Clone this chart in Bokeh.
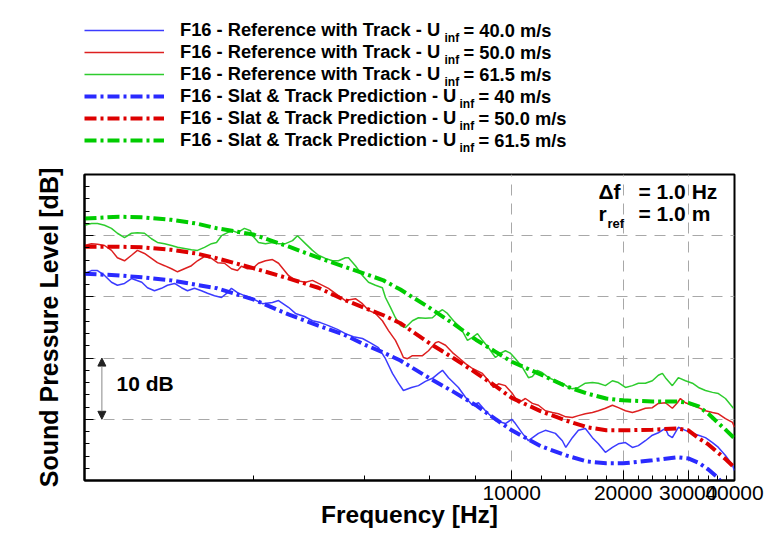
from bokeh.plotting import figure
from bokeh.layouts import column
from bokeh.models import (Legend, LegendItem, Label, FixedTicker, NumeralTickFormatter,
                          CustomJSTickFormatter, Arrow, NormalHead, Range1d)
from bokeh.embed import file_html
from bokeh.resources import INLINE

FONT = "Liberation Sans"

# ---------------- data ----------------
freq_ref_40 = [700, 731, 759, 793, 828, 859, 898, 938, 1000, 1036, 1082, 1130, 1173, 1226, 1280,
               1329, 1388, 1450, 1505, 1572, 1642, 1705, 1747, 1814, 1894, 1967, 2119, 2255, 2342,
               2491, 2602, 2752, 2893, 3040, 3195, 3379, 3551, 3732, 3948, 4150, 4362, 4556, 4759,
               4939, 5095, 5357, 5595, 5843, 6104, 6338, 6497, 6746, 7175, 7497, 7830, 8128, 8489,
               9036, 9612, 10000, 10230, 10685, 11094, 11806, 12330, 13120, 13700, 14000, 14580,
               15140, 15810, 16520, 17140, 17910, 18710, 19420, 20290, 21190, 21990, 22970, 23990,
               24900, 26020, 26510, 27170, 28200, 29470, 30790, 31960, 33390, 34880, 36190, 37810,
               39510, 40000]
spl_ref_40 = [53.8, 54.3, 54.3, 53.5, 52.4, 51.9, 52.2, 53.0, 52.4, 51.5, 51.0, 51.4, 51.9, 52.2, 51.5,
              51.0, 51.4, 51.0, 50.6, 50.2, 49.9, 50.7, 51.4, 50.7, 50.2, 49.9, 48.9, 49.1, 49.4,
              48.3, 47.3, 46.8, 46.1, 45.8, 45.3, 44.7, 44.0, 43.5, 43.2, 42.5, 41.7, 39.9, 37.5,
              35.9, 34.7, 35.2, 35.5, 36.2, 36.7, 37.5, 38.0, 36.8, 35.2, 33.6, 32.3, 32.7, 31.4,
              29.8, 29.3, 30.0, 29.3, 27.7, 26.5, 27.7, 28.2, 27.7, 26.5, 25.4, 27.0,
              28.2, 28.5, 27.0, 26.0, 24.6, 25.4, 26.0, 26.2, 25.4, 25.7, 26.5, 27.4,
              27.8, 28.5, 27.4, 27.0, 28.7, 28.2, 27.7, 27.4, 27.0, 26.2, 25.4, 24.1,
              22.5, 21.6]

freq_ref_50 = [700, 731, 759, 793, 828, 859, 898, 938, 973, 1017, 1062, 1102, 1152, 1203, 1249,
               1304, 1362, 1414, 1477, 1543, 1602, 1673, 1747, 1814, 1859, 1930, 1991, 2067, 2160,
               2255, 2342, 2491, 2602, 2769, 2893, 3003, 3195, 3400, 3551, 3779, 3948, 4100, 4281,
               4470, 4643, 4848, 5002, 5095, 5225, 5389, 5737, 5955, 6219, 6338, 6621, 6914, 7175,
               7497, 7830, 8330, 8652, 8926, 9207, 9612, 10043, 10425, 10885, 11370, 11806, 12330,
               12880, 13370, 14000, 14580, 15140, 15810, 16520, 17140, 17910, 18710, 19420, 20290,
               21190, 21990, 22970, 23990, 24900, 26020, 27170, 28040, 28560, 29470, 30790, 31960,
               33390, 34880, 36190, 37810, 39510, 40000]
spl_ref_50 = [58.4, 58.7, 58.6, 58.4, 57.6, 56.4, 55.9, 56.8, 57.6, 57.1, 56.3, 55.6, 55.1, 54.6, 54.1,
              54.6, 55.1, 55.9, 56.6, 56.3, 55.6, 55.5, 54.6, 54.3, 55.0, 54.6, 54.6, 55.5, 55.9,
              56.1, 55.5, 53.5, 52.7, 52.4, 52.7, 52.2, 51.4, 50.2, 49.4, 49.7, 48.9, 47.8, 47.3,
              46.1, 44.5, 42.9, 41.2, 40.1, 39.9, 40.4, 40.4, 41.2, 42.5, 42.7, 42.1, 40.9, 40.1,
              39.1, 38.3, 37.5, 36.3, 35.2, 35.8, 35.5, 34.2, 32.7, 33.4, 32.6, 32.3, 31.4,
              31.1, 30.9, 30.4, 30.3, 30.6, 30.9, 31.1, 31.4, 31.8, 32.3, 31.9, 31.4,
              31.1, 31.4, 31.8, 31.9, 32.6, 32.7, 31.8, 32.7, 33.4, 32.7, 32.3, 31.9,
              31.4, 31.1, 30.9, 30.1, 29.5, 28.7]

freq_ref_615 = [700, 731, 759, 793, 828, 859, 898, 938, 973, 1017, 1062, 1102, 1152, 1203, 1249,
                1304, 1362, 1414, 1477, 1543, 1592, 1642, 1705, 1758, 1814, 1894, 1967, 1991, 2067,
                2160, 2255, 2342, 2445, 2555, 2635, 2685, 2769, 2893, 3003, 3136, 3276, 3400, 3551,
                3619, 3779, 3948, 4100, 4281, 4470, 4556, 4700, 4848, 5002, 5162, 5389, 5595, 5843,
                6104, 6338, 6497, 6700, 6957, 7266, 7590, 7830, 8078, 8330, 8652, 9036, 9318, 9612,
                9919, 10230, 10685, 11094, 11370, 11730, 12100, 12570, 13120, 13700, 14230, 14580,
                15140, 15810, 16520, 17140, 17910, 18710, 19420, 20290, 21190, 21990, 22970, 23990,
                24900, 25540, 26020, 27170, 28200, 29470, 30790, 31960, 33390, 34880, 36190, 37810,
                39730]
spl_ref_615 = [61.7, 62.0, 62.0, 61.7, 61.2, 60.4, 59.7, 60.4, 60.5, 60.4, 59.5, 58.9, 58.7, 58.4, 58.1,
               57.9, 57.7, 57.6, 58.1, 58.7, 58.9, 60.0, 60.5, 60.8, 60.5, 61.2, 60.8, 60.0, 58.9,
               58.7, 58.9, 58.7, 58.7, 59.2, 60.0, 59.5, 58.7, 57.6, 56.8, 56.3, 55.9, 55.9, 56.4,
               56.4, 55.1, 53.5, 52.4, 51.9, 51.5, 49.9, 48.3, 46.6, 45.3, 45.0, 46.1, 46.6, 46.5,
               46.6, 47.5, 47.9, 47.3, 46.1, 45.0, 42.9, 43.4, 44.0, 42.9, 41.7, 40.1, 40.8, 41.2,
               40.8, 39.9, 38.5, 36.8, 37.0, 38.0, 37.6, 36.8, 36.3, 35.9, 35.2, 35.0,
               35.2, 35.9, 36.0, 35.9, 35.5, 36.3, 36.0, 35.2, 35.5, 35.9, 35.9, 36.3,
               37.2, 37.5, 36.8, 35.5, 36.8, 36.3, 35.9, 35.2, 34.7, 34.4, 34.2, 33.4,
               31.8]

freq_pred = [700, 870, 1000, 1200, 1400, 1600, 2000, 2500, 3000, 3500, 4000, 4500, 5000, 6000,
             7000, 8000, 9000, 10000, 12000, 14000, 16000, 18000, 20000, 24000, 28000, 30000,
             32000, 34000, 36000, 38000, 40000]
spl_pred_40 = [53.8, 53.5, 53.2, 52.7, 52.0, 51.4, 49.6, 47.1, 45.3, 43.9, 42.2, 40.9, 39.6, 36.7,
               34.4, 32.3, 30.1, 28.2, 25.6, 24.1, 23.1, 22.8, 22.8, 23.3, 23.8, 23.6,
               22.9, 21.8, 20.5, 18.7, 17.2]
spl_pred_50 = [58.2, 58.2, 58.1, 57.7, 57.1, 56.3, 54.7, 53.0, 51.5, 49.6, 48.2, 47.0, 45.7, 42.4,
               39.9, 37.6, 35.5, 33.5, 31.3, 29.8, 28.7, 28.2, 28.2, 28.3, 28.5, 28.2,
               26.9, 25.9, 24.6, 23.4, 22.1]
spl_pred_615 = [62.8, 63.1, 63.0, 62.6, 62.0, 61.2, 60.2, 58.2, 56.4, 55.0, 53.8, 52.7, 51.2, 48.2,
                45.5, 43.0, 41.1, 39.4, 37.3, 35.4, 34.2, 33.4, 33.1, 32.9, 32.9, 32.7,
                32.1, 30.9, 29.5, 28.2, 26.9]

x_major_ticks = [10000, 20000, 30000, 40000]
x_minor_ticks = [2000, 4000, 6000, 8000, 12000, 14000, 16000, 18000, 22000, 24000, 26000, 28000,
                 32000, 34000, 36000, 38000]
x_grid_ticks = [10000, 20000, 30000]
y_major_ticks = [20, 30, 40, 50, 60, 70]
y_minor_ticks = [v for v in range(22, 70, 2) if v % 10 != 0]
y_grid_ticks = [30, 40, 50, 60]

legend_prefix = ["F16 - Reference with Track - U"] * 3 + ["F16 - Slat & Track Prediction - U"] * 3
legend_suffix = ["= 40.0 m/s", "= 50.0 m/s", "= 61.5 m/s", "= 40 m/s", "= 50.0 m/s", "= 61.5 m/s"]

arrow_freq = 780
arrow_db = (30, 40)

series = [
    (freq_ref_40, spl_ref_40, "#3c3cff", 1.5, "solid"),
    (freq_ref_50, spl_ref_50, "#dd2020", 1.5, "solid"),
    (freq_ref_615, spl_ref_615, "#2ecc2e", 1.5, "solid"),
    (freq_pred, spl_pred_40, "#2a2aff", 4, "12 4 3 4"),
    (freq_pred, spl_pred_50, "#dd0000", 4, "12 4 3 4"),
    (freq_pred, spl_pred_615, "#00cc00", 4, "12 4 3 4"),
]

W = 765
LEG_H = 160
MAIN_H = 533 - LEG_H
FRAME_L = 84  # the column aligns the strip's frame with the main frame

# ---------------- legend strip ----------------
lf = figure(width=W, height=LEG_H, x_range=Range1d(0, 1), y_range=Range1d(0, 1),
            output_backend="svg", toolbar_location=None,
            min_border_left=FRAME_L, min_border_right=31, min_border_top=0, min_border_bottom=0,
            x_axis_location=None, y_axis_location=None)
lf.outline_line_color = None
lf.xgrid.visible = False
lf.ygrid.visible = False
lf.background_fill_color = "white"
lf.border_fill_color = "white"

leg_rends = []
for fx, fy, col, lw, dash in series:
    r = lf.line(fx, fy, line_color=col, line_width=lw, line_dash=dash)
    r.visible = False  # only used to draw the legend samples
    leg_rends.append(r)

legend = Legend(items=[LegendItem(label=t, renderers=[r]) for t, r in zip(legend_prefix, leg_rends)],
                location=(0, LEG_H - 151), orientation="vertical", padding=0, margin=0, spacing=0,
                glyph_width=80, glyph_height=22, label_height=22, label_standoff=16,
                label_text_font=FONT, label_text_font_size="18.3px", label_text_font_style="bold",
                label_text_color="black", border_line_color=None, background_fill_alpha=0,
                inactive_fill_alpha=0)
lf.add_layout(legend)

for i, suf in enumerate(legend_suffix):
    row_y = 30 + 22 * i
    inf_x = 444 if i < 3 else 459
    suf_x = 463 if i < 3 else 478
    lf.add_layout(Label(x=inf_x - FRAME_L, y=LEG_H - (row_y + 7), x_units="screen", y_units="screen",
                        text="inf", text_font=FONT, text_font_size="12px", text_font_style="bold",
                        text_color="black", text_baseline="middle"))
    lf.add_layout(Label(x=suf_x - FRAME_L, y=LEG_H - row_y, x_units="screen", y_units="screen",
                        text=suf, text_font=FONT, text_font_size="18.3px", text_font_style="bold",
                        text_color="black", text_baseline="middle"))

# ---------------- main plot ----------------
p = figure(width=W, height=MAIN_H, x_axis_type="log",
           x_range=Range1d(700, 40000), y_range=Range1d(20, 70),
           output_backend="svg", toolbar_location=None,
           min_border_left=FRAME_L, min_border_right=31, min_border_top=174 - LEG_H, min_border_bottom=53)
p.background_fill_color = "white"
p.border_fill_color = "white"
p.outline_line_color = "black"
p.outline_line_width = 2

p.xgrid.ticker = FixedTicker(ticks=x_grid_ticks)
p.ygrid.ticker = FixedTicker(ticks=y_grid_ticks)
for g in (p.xgrid[0], p.ygrid[0]):
    g.grid_line_color = "#a8a8a8"
    g.grid_line_width = 1
    g.grid_line_dash = "11 8"

xa = p.xaxis[0]
xa.ticker = FixedTicker(ticks=x_major_ticks, minor_ticks=x_minor_ticks)
xa.formatter = NumeralTickFormatter(format="0")
xa.major_tick_in = 10
xa.major_tick_out = 0
xa.minor_tick_in = 5
xa.minor_tick_out = 0
xa.axis_line_width = 2
xa.major_tick_line_color = "black"
xa.minor_tick_line_color = "black"
xa.major_label_text_font = FONT
xa.major_label_text_font_size = "21px"
xa.major_label_text_color = "black"
xa.major_label_standoff = 5
xa.axis_label = "Frequency [Hz]"
xa.axis_label_text_font = FONT
xa.axis_label_text_font_size = "24.5px"
xa.axis_label_text_font_style = "bold"
xa.axis_label_text_color = "black"
xa.axis_label_standoff = -2

ya = p.yaxis[0]
ya.ticker = FixedTicker(ticks=y_major_ticks, minor_ticks=y_minor_ticks)
ya.formatter = CustomJSTickFormatter(code="return ''")
ya.major_tick_in = 9
ya.major_tick_out = 0
ya.minor_tick_in = 5
ya.minor_tick_out = 0
ya.axis_line_width = 2
ya.major_tick_line_color = "black"
ya.minor_tick_line_color = "black"
ya.major_label_standoff = 0
ya.axis_label = "Sound Pressure Level [dB]"
ya.axis_label_text_font = FONT
ya.axis_label_text_font_size = "25px"
ya.axis_label_text_font_style = "bold"
ya.axis_label_text_color = "black"
ya.axis_label_standoff = 22

for fx, fy, col, lw, dash in series:
    p.line(fx, fy, line_color=col, line_width=lw, line_dash=dash)

frame_bottom = 480


def lab(x, y, text, size):
    p.add_layout(Label(x=x - FRAME_L, y=frame_bottom - y, x_units="screen", y_units="screen",
                       text=text, text_font=FONT, text_font_size=size, text_font_style="bold",
                       text_color="black", text_baseline="middle"))


lab(598, 191, "\u0394f", "21px")
lab(638, 191, "= 1.0 Hz", "21px")
lab(598, 213, "r", "21px")
lab(607, 223, "ref", "13px")
lab(638, 213, "= 1.0 m", "21px")
lab(116, 383, "10 dB", "21px")

p.add_layout(Arrow(start=NormalHead(size=8, fill_color="#222", line_color="#222"),
                   end=NormalHead(size=8, fill_color="#222", line_color="#222"),
                   x_start=arrow_freq, y_start=arrow_db[0], x_end=arrow_freq, y_end=arrow_db[1],
                   line_color="#888", line_width=1))

layout = column(lf, p, spacing=0)
open("out.html", "w").write(file_html(layout, INLINE))
